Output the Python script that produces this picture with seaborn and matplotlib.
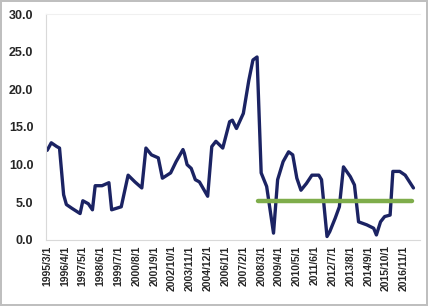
import matplotlib
matplotlib.use('Agg')
import matplotlib.pyplot as plt
import seaborn as sns
import pandas as pd

# month offset from 1995/3/1, value
months = [0, 3, 7, 9, 12, 14, 18, 24, 26, 30, 33, 35, 40, 45, 47, 54, 59, 64, 69,
          72, 76, 81, 84, 90, 94, 99, 100, 102, 105, 108, 111, 117, 120, 123, 128,
          133, 135, 138, 143, 147, 150, 153, 156, 160, 165, 168, 172, 176, 179,
          182, 185, 189, 193, 198, 200, 204, 206, 210, 213, 216, 221, 224, 227,
          233, 238, 240, 243, 246, 250, 252, 257, 261, 267]
values = [11.9, 12.9, 12.4, 12.2, 6.0, 4.7, 4.2, 3.5, 5.2, 4.8, 4.0, 7.2, 7.2, 7.6,
          4.0, 4.4, 8.6, 7.7, 6.9, 12.2, 11.3, 10.9, 8.2, 8.9, 10.4, 12.0, 11.5,
          10.0, 9.5, 8.0, 7.7, 5.8, 12.4, 13.1, 12.2, 15.7, 15.9, 14.8, 16.8, 21.2,
          23.9, 24.3, 8.9, 7.1, 0.9, 8.0, 10.4, 11.7, 11.3, 8.2, 6.6, 7.5, 8.6,
          8.6, 8.0, 0.45, 1.1, 2.9, 4.4, 9.7, 8.4, 7.3, 2.4, 2.0, 1.55, 0.66, 2.4,
          3.1, 3.3, 9.1, 9.1, 8.6, 6.9]

level_x = [154, 266]
level_y = [5.2, 5.2]

tick_pos = list(range(0, 261, 13))
tick_labels = ['1995/3/1', '1996/4/1', '1997/5/1', '1998/6/1', '1999/7/1',
               '2000/8/1', '2001/9/1', '2002/10/1', '2003/11/1', '2004/12/1',
               '2006/1/1', '2007/2/1', '2008/3/1', '2009/4/1', '2010/5/1',
               '2011/6/1', '2012/7/1', '2013/8/1', '2014/9/1', '2015/10/1',
               '2016/11/1']

df = pd.DataFrame({'month': months, 'value': values})

sns.set_style('white')
plt.rcParams['font.family'] = ['Liberation Sans', 'DejaVu Sans']

fig = plt.figure(figsize=(4.28, 3.06), dpi=100)
fig.patch.set_edgecolor('#bfbfbf')
fig.patch.set_linewidth(1.5)
ax = fig.add_axes([0.107, 0.216, 0.875, 0.738])

sns.lineplot(data=df, x='month', y='value', color='#1b2363', linewidth=2.4, ax=ax)
sns.lineplot(x=level_x, y=level_y, color='#7fad4b', linewidth=3.2, ax=ax)

ax.set_xlim(-1, 272)
ax.set_ylim(0, 30)
ax.set_yticks([0, 5, 10, 15, 20, 25, 30])
ax.set_yticklabels(['%.1f' % v for v in [0, 5, 10, 15, 20, 25, 30]],
                   fontsize=9, fontweight='bold', color='#262626')
ax.set_xticks(tick_pos)
ax.set_xticklabels(tick_labels, rotation=90, fontsize=7.5, fontweight='bold',
                   color='#262626')
ax.tick_params(axis='y', length=0, pad=9)
ax.tick_params(axis='x', length=2, color='#d9d9d9', pad=2)
ax.set_xlabel('')
ax.set_ylabel('')
ax.spines['right'].set_visible(False)
ax.spines['left'].set_color('#d9d9d9')
ax.spines['bottom'].set_color('#d9d9d9')
ax.spines['top'].set_color('#f0f0f0')

fig.savefig('out.png', dpi=100)
